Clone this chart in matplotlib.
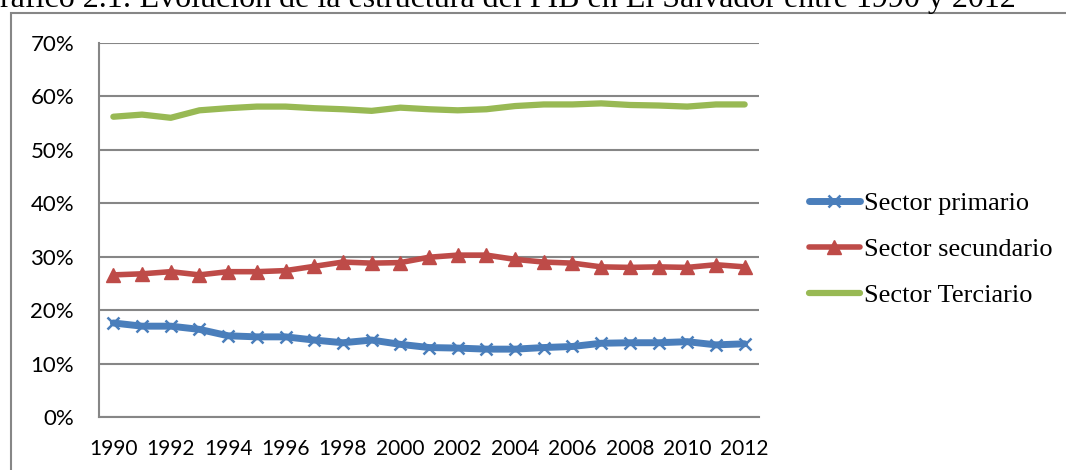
import matplotlib.pyplot as plt
from matplotlib.patches import Rectangle
from matplotlib.ticker import FuncFormatter

# Estructura del PIB de El Salvador por sector (% del total)
anios = list(range(1990, 2013))
primario = [17.6, 17.0, 17.0, 16.4, 15.2, 15.0, 15.0, 14.4, 13.9, 14.4, 13.6, 13.0,
            12.9, 12.7, 12.7, 13.0, 13.2, 13.8, 13.9, 13.9, 14.1, 13.5, 13.7]
secundario = [26.6, 26.8, 27.2, 26.6, 27.2, 27.2, 27.4, 28.2, 29.0, 28.8, 28.9, 29.9,
              30.3, 30.3, 29.5, 29.0, 28.8, 28.1, 28.0, 28.1, 28.0, 28.5, 28.1]
terciario = [56.2, 56.6, 56.0, 57.4, 57.8, 58.1, 58.1, 57.8, 57.6, 57.3, 57.9, 57.6,
             57.4, 57.6, 58.2, 58.5, 58.5, 58.7, 58.4, 58.3, 58.1, 58.5, 58.5]
etiquetas_x = [str(a) if a % 2 == 0 else "" for a in anios]

titulo = "Gráfico 2.1: Evolución de la estructura del PIB en El Salvador entre 1990 y 2012"

fig = plt.figure(figsize=(10.66, 4.70), dpi=100)
ax = fig.add_axes([99 / 1066, 1 - 417 / 470, 660 / 1066, 374 / 470])

x = list(range(len(anios)))
ax.plot(x, primario, color="#4A7EBB", lw=5, marker="x", ms=9, mew=1.8,
        label="Sector primario", solid_capstyle="round")
ax.plot(x, secundario, color="#BE4B48", lw=4, marker="^", ms=10,
        label="Sector secundario", solid_capstyle="round")
ax.plot(x, terciario, color="#98B954", lw=4.5,
        label="Sector Terciario", solid_capstyle="round")

ax.set_xlim(-0.5, len(anios) - 0.5)
ax.set_ylim(0, 70)
ax.set_yticks(range(0, 71, 10))
ax.yaxis.set_major_formatter(FuncFormatter(lambda v, p: f"{int(v)}%"))
ax.set_xticks(x)
ax.set_xticklabels(etiquetas_x)
ax.tick_params(axis="both", length=0, labelsize=15, colors="black", pad=16)
ax.tick_params(axis="y", labelsize=16, pad=18)
for lbl in ax.get_xticklabels() + ax.get_yticklabels():
    lbl.set_fontfamily("Lato")

ax.grid(axis="y", color="#868686", lw=1.5)
ax.set_axisbelow(True)
for s in ["top", "right"]:
    ax.spines[s].set_visible(False)
for s in ["left", "bottom"]:
    ax.spines[s].set_color("#868686")
    ax.spines[s].set_linewidth(1.5)

leg = fig.legend(loc="upper left", bbox_to_anchor=(785 / 1066, 1 - 168 / 470),
                 frameon=False, prop={"family": "Liberation Serif", "size": 19},
                 handlelength=1.95, handletextpad=0.15, labelspacing=0.85)

# marco del gráfico
fig.patches.append(Rectangle((11 / 1066, -0.1), 1.2, 1 - 13 / 470 + 0.1,
                             transform=fig.transFigure, fill=False,
                             edgecolor="#868686", lw=1.5))

fig.text(-23 / 1066, 1 - 7 / 470, titulo, family="Liberation Serif", fontsize=23,
         va="baseline", ha="left")

fig.savefig("out.png", dpi=100)
